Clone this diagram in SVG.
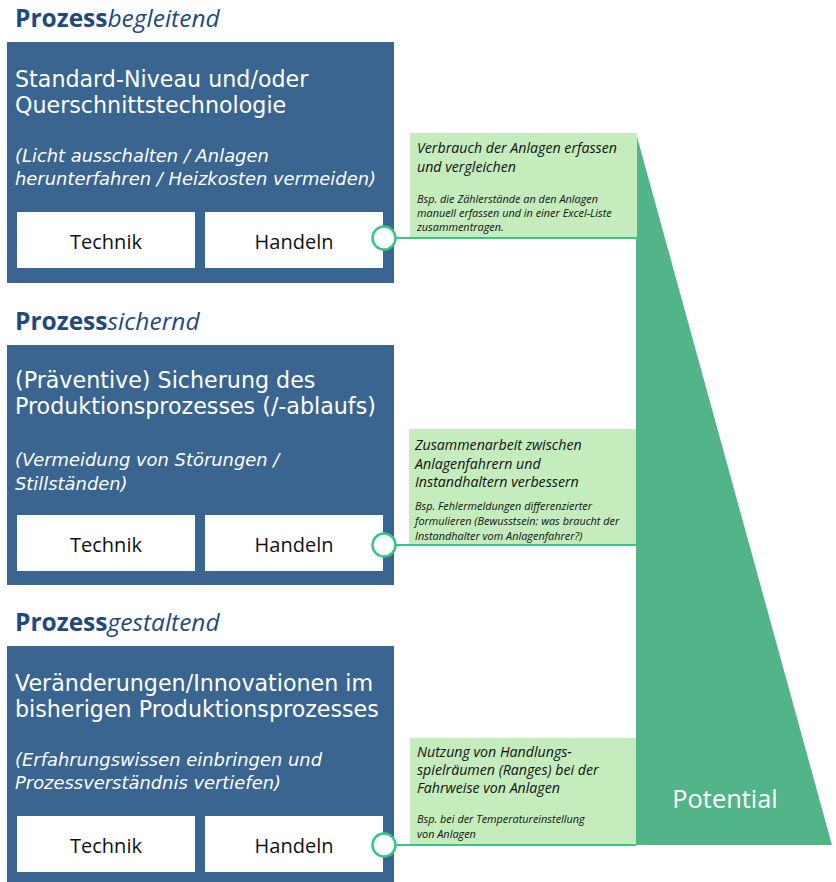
<svg xmlns="http://www.w3.org/2000/svg" width="836" height="882" viewBox="0 0 836 882">
<style>
.bg{fill:#ffffff}
.panel{fill:#3a6590}
.card{fill:#ffffff}
.note{fill:#c4ecbd}
.head{font-family:"Open Sans","Noto Sans",sans-serif;font-size:24.5px;fill:#1f4a80}
.head .b{font-weight:bold}
.head .i{font-style:italic}
.title{font-family:"DejaVu Sans",sans-serif;font-size:22.2px;fill:#ffffff}
.sub{font-family:"DejaVu Sans",sans-serif;font-size:17.9px;font-style:italic;fill:#ffffff}
.btn{font-family:"Open Sans","Noto Sans",sans-serif;font-size:20px;fill:#111111;text-anchor:middle}
.nt{font-family:"Open Sans","Noto Sans",sans-serif;font-size:14.2px;font-style:italic;fill:#111111}
.ns{font-family:"Open Sans","Noto Sans",sans-serif;font-size:10.9px;font-style:italic;fill:#111111}
.pot{font-family:"Open Sans","Noto Sans",sans-serif;font-size:25.4px;fill:#ffffff;text-anchor:middle}
.link{stroke:#34c785;stroke-width:2;fill:none}
.dot{stroke:#34c785;stroke-width:2.5;fill:#ffffff}
</style>
<rect class="bg" x="0" y="0" width="836" height="882"/>

<g id="potential">
<polygon points="636,133 832,845 636,845" fill="#52b58a"/>
<text class="pot" x="725" y="808">Potential</text>
</g>

<g id="level1">
<text class="head" x="15" y="27"><tspan class="b">Prozess</tspan><tspan class="i">begleitend</tspan></text>
<rect class="panel" x="7" y="42" width="387" height="241"/>
<text class="title" x="15" y="87">Standard-Niveau und/oder<tspan x="15" dy="26">Querschnittstechnologie</tspan></text>
<text class="sub" x="15" y="162">(Licht ausschalten / Anlagen<tspan x="15" dy="23">herunterfahren / Heizkosten vermeiden)</tspan></text>
<rect class="card" x="17" y="212" width="178" height="56"/>
<text class="btn" x="106" y="249">Technik</text>
<rect class="card" x="205" y="212" width="178" height="56"/>
<text class="btn" x="294" y="249">Handeln</text>
</g>

<g id="level2">
<text class="head" x="15" y="330"><tspan class="b">Prozess</tspan><tspan class="i">sichernd</tspan></text>
<rect class="panel" x="7" y="345" width="387" height="240"/>
<text class="title" x="15" y="388">(Präventive) Sicherung des<tspan x="15" dy="26">Produktionsprozesses (/-ablaufs)</tspan></text>
<text class="sub" x="15" y="466">(Vermeidung von Störungen /<tspan x="15" dy="24">Stillständen)</tspan></text>
<rect class="card" x="17" y="515" width="178" height="56"/>
<text class="btn" x="106" y="552">Technik</text>
<rect class="card" x="205" y="515" width="178" height="56"/>
<text class="btn" x="294" y="552">Handeln</text>
</g>

<g id="level3">
<text class="head" x="15" y="631"><tspan class="b">Prozess</tspan><tspan class="i">gestaltend</tspan></text>
<rect class="panel" x="7" y="646" width="387" height="240"/>
<text class="title" x="15" y="691">Veränderungen/Innovationen im<tspan x="15" dy="26">bisherigen Produktionsprozesses</tspan></text>
<text class="sub" x="15" y="766">(Erfahrungswissen einbringen und<tspan x="15" dy="23">Prozessverständnis vertiefen)</tspan></text>
<rect class="card" x="17" y="816" width="178" height="56"/>
<text class="btn" x="106" y="853">Technik</text>
<rect class="card" x="205" y="816" width="178" height="56"/>
<text class="btn" x="294" y="853">Handeln</text>
</g>

<g id="note1">
<rect class="note" x="410" y="133" width="227" height="105"/>
<text class="nt" x="417" y="153">Verbrauch der Anlagen erfassen<tspan x="417" dy="19">und vergleichen</tspan></text>
<text class="ns" x="417" y="203">Bsp. die Zählerstände an den Anlagen<tspan x="417" dy="14">manuell erfassen und in einer Excel-Liste</tspan><tspan x="417" dy="14">zusammentragen.</tspan></text>
</g>

<g id="note2">
<rect class="note" x="409" y="429" width="227" height="116"/>
<text class="nt" x="415" y="450">Zusammenarbeit zwischen<tspan x="415" dy="18.5">Anlagenfahrern und</tspan><tspan x="415" dy="18.5">Instandhaltern verbessern</tspan></text>
<text class="ns" x="415" y="510">Bsp. Fehlermeldungen differenzierter<tspan x="415" dy="15">formulieren (Bewusstsein: was braucht der</tspan><tspan x="415" dy="15">Instandhalter vom Anlagenfahrer?)</tspan></text>
</g>

<g id="note3">
<rect class="note" x="410" y="738" width="226" height="107"/>
<text class="nt" x="417" y="757">Nutzung von Handlungs-<tspan x="417" dy="18">spielräumen (Ranges) bei der</tspan><tspan x="417" dy="18">Fahrweise von Anlagen</tspan></text>
<text class="ns" x="417" y="823">Bsp. bei der Temperatureinstellung<tspan x="417" dy="15">von Anlagen</tspan></text>
</g>

<g id="connectors">
<line class="link" x1="395" y1="238" x2="637" y2="238"/>
<line class="link" x1="395" y1="545" x2="636" y2="545"/>
<line class="link" x1="395" y1="845" x2="636" y2="845"/>
<circle class="dot" cx="384" cy="238" r="11.5"/>
<circle class="dot" cx="384" cy="545" r="11.5"/>
<circle class="dot" cx="384" cy="845" r="11.5"/>
</g>
</svg>
